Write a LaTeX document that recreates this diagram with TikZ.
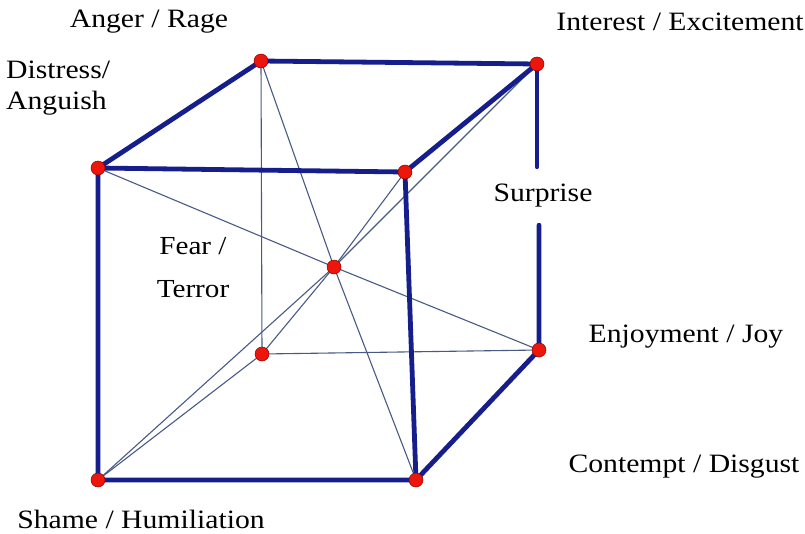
\documentclass[tikz,border=0pt]{standalone}
\usepackage{fontspec}
\setmainfont[FakeStretch=1.12]{Liberation Serif}
\usetikzlibrary{positioning}

\definecolor{edgeblue}{RGB}{22,30,140}
\definecolor{diagblue}{RGB}{72,90,132}
\definecolor{dotred}{RGB}{236,22,12}

\begin{document}
\begin{tikzpicture}[x=1pt,y=-1pt,
  corner/.style={circle, fill=dotred, draw=red!55!black, line width=0.5pt, inner sep=0pt, minimum size=14pt},
  edge/.style={draw=edgeblue, line width=4.8pt, line cap=round},
  diag/.style={draw=diagblue, line width=1.1pt},
  lbl/.style={font=\fontsize{26.5}{31}\selectfont, inner sep=0pt}]
\useasboundingbox (0,0) rectangle (805,533);
% cube corners
\coordinate (fTL) at (98,168);
\coordinate (fTR) at (405,172);
\coordinate (fBL) at (98,480);
\coordinate (fBR) at (416,480);
\coordinate (bTL) at (261,61);
\coordinate (bTR) at (537,64);
\coordinate (bBL) at (262,354);
\coordinate (bBR) at (539,350);
\coordinate (mid) at (334,267);
% labels
\node[lbl] (anger) at (149,22) {Anger / Rage};
\node[lbl] (interest) at (680,22) {Interest / Excitement};
\node[lbl, anchor=west, align=left, font=\fontsize{26.5}{31}\selectfont] (distress) at (6,88) {Distress/\\Anguish};
\node[lbl, fill=white, minimum height=58pt] (surprise) at (543,196) {Surprise};
\node[lbl, align=center, font=\fontsize{26}{43}\selectfont] (fear) at (193,268) {Fear /\\Terror};
\node[lbl] (joy) at (686,337) {Enjoyment / Joy};
\node[lbl] (contempt) at (684,467) {Contempt / Disgust};
\node[lbl] (shame) at (141,519) {Shame / Humiliation};
% thin lines
\draw[diag] (fBL) -- (mid) -- (bTR);
\draw[diag] (bBL) -- (mid) -- (fTR);
\draw[diag] (fTL) -- (mid) -- (bBR);
\draw[diag] (bTL) -- (mid) -- (fBR);
\draw[diag] (bTL) -- (bBL) -- (bBR);
\draw[diag] (fBL) -- (bBL);
% thick edges
\draw[edge] (fTL) -- (fTR) -- (fBR) -- (fBL) -- cycle;
\draw[edge] (fTL) -- (bTL) -- (bTR) -- (fTR);
\draw[edge] (bTR) -- (bTR |- surprise.north);
\draw[edge] (bBR |- surprise.south) -- (bBR) -- (fBR);
% dots
\foreach \c in {fTL,fTR,fBL,fBR,bTL,bTR,bBL,bBR,mid}
  \node[corner] (dot-\c) at (\c) {};
\end{tikzpicture}
\end{document}
